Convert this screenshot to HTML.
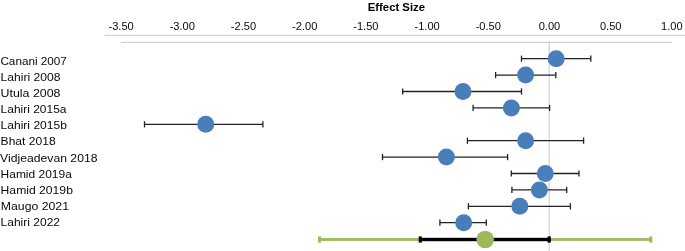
<!DOCTYPE html>
<html><head><meta charset="utf-8"><title>Effect Size</title>
<style>
html,body{margin:0;padding:0;background:#fff;}
svg{display:block;}
text{font-family:"Liberation Sans",sans-serif;fill:#0a0a0a;}
.t{font-size:11px;text-anchor:middle;}
.l{font-size:11.3px;}
.h{font-size:11.3px;font-weight:bold;text-anchor:middle;fill:#000;}
</style></head><body>
<svg width="685" height="251" viewBox="0 0 685 251">
<rect width="685" height="251" fill="#fff"/>
<text class="h" x="396.4" y="11" textLength="57.4" lengthAdjust="spacingAndGlyphs">Effect Size</text>
<text class="t" x="121.1" y="30" textLength="25.3" lengthAdjust="spacingAndGlyphs">-3.50</text>
<text class="t" x="182.3" y="30" textLength="25.3" lengthAdjust="spacingAndGlyphs">-3.00</text>
<text class="t" x="243.5" y="30" textLength="25.3" lengthAdjust="spacingAndGlyphs">-2.50</text>
<text class="t" x="304.7" y="30" textLength="25.3" lengthAdjust="spacingAndGlyphs">-2.00</text>
<text class="t" x="365.9" y="30" textLength="25.3" lengthAdjust="spacingAndGlyphs">-1.50</text>
<text class="t" x="427.1" y="30" textLength="25.3" lengthAdjust="spacingAndGlyphs">-1.00</text>
<text class="t" x="488.3" y="30" textLength="25.3" lengthAdjust="spacingAndGlyphs">-0.50</text>
<text class="t" x="549.5" y="30" textLength="21.6" lengthAdjust="spacingAndGlyphs">0.00</text>
<text class="t" x="610.7" y="30" textLength="21.6" lengthAdjust="spacingAndGlyphs">0.50</text>
<text class="t" x="671.9" y="30" textLength="21.6" lengthAdjust="spacingAndGlyphs">1.00</text>
<line x1="104.5" y1="35.3" x2="685" y2="35.3" stroke="#c9c9c9" stroke-width="1"/>
<line x1="121" y1="42.3" x2="672" y2="42.3" stroke="#c9c9c9" stroke-width="1"/>
<line x1="549.2" y1="42.3" x2="549.2" y2="251" stroke="#c9c9c9" stroke-width="1"/>
<text class="l" x="0.4" y="65.1" textLength="66.5" lengthAdjust="spacingAndGlyphs">Canani 2007</text>
<text class="l" x="0.6" y="81.2" textLength="59.9" lengthAdjust="spacingAndGlyphs">Lahiri 2008</text>
<text class="l" x="0.6" y="97.2" textLength="59.9" lengthAdjust="spacingAndGlyphs">Utula 2008</text>
<text class="l" x="0.6" y="113.3" textLength="65.9" lengthAdjust="spacingAndGlyphs">Lahiri 2015a</text>
<text class="l" x="0.6" y="129.3" textLength="66.3" lengthAdjust="spacingAndGlyphs">Lahiri 2015b</text>
<text class="l" x="0.6" y="145.4" textLength="55.1" lengthAdjust="spacingAndGlyphs">Bhat 2018</text>
<text class="l" x="0.1" y="161.5" textLength="97.4" lengthAdjust="spacingAndGlyphs">Vidjeadevan 2018</text>
<text class="l" x="0.6" y="177.5" textLength="71.2" lengthAdjust="spacingAndGlyphs">Hamid 2019a</text>
<text class="l" x="0.6" y="193.6" textLength="72.3" lengthAdjust="spacingAndGlyphs">Hamid 2019b</text>
<text class="l" x="0.8" y="209.6" textLength="68.2" lengthAdjust="spacingAndGlyphs">Maugo 2021</text>
<text class="l" x="0.6" y="225.7" textLength="59.4" lengthAdjust="spacingAndGlyphs">Lahiri 2022</text>
<g stroke="#222" stroke-width="1.3"><line x1="521.5" y1="58.7" x2="590.8" y2="58.7"/><line x1="521.5" y1="55.6" x2="521.5" y2="61.8"/><line x1="590.8" y1="55.6" x2="590.8" y2="61.8"/></g>
<circle cx="556.2" cy="58.7" r="8.5" fill="#4a7ebb"/>
<g stroke="#222" stroke-width="1.3"><line x1="495.6" y1="75.1" x2="555.8" y2="75.1"/><line x1="495.6" y1="72.0" x2="495.6" y2="78.2"/><line x1="555.8" y1="72.0" x2="555.8" y2="78.2"/></g>
<circle cx="525.6" cy="75.1" r="8.5" fill="#4a7ebb"/>
<g stroke="#222" stroke-width="1.3"><line x1="402.7" y1="91.5" x2="521.5" y2="91.5"/><line x1="402.7" y1="88.4" x2="402.7" y2="94.6"/><line x1="521.5" y1="88.4" x2="521.5" y2="94.6"/></g>
<circle cx="463.0" cy="91.5" r="8.5" fill="#4a7ebb"/>
<g stroke="#222" stroke-width="1.3"><line x1="473.1" y1="107.9" x2="549.6" y2="107.9"/><line x1="473.1" y1="104.8" x2="473.1" y2="111.0"/><line x1="549.6" y1="104.8" x2="549.6" y2="111.0"/></g>
<circle cx="511.4" cy="107.9" r="8.5" fill="#4a7ebb"/>
<g stroke="#222" stroke-width="1.3"><line x1="144.5" y1="124.3" x2="262.9" y2="124.3"/><line x1="144.5" y1="121.2" x2="144.5" y2="127.4"/><line x1="262.9" y1="121.2" x2="262.9" y2="127.4"/></g>
<circle cx="205.7" cy="124.3" r="8.5" fill="#4a7ebb"/>
<g stroke="#222" stroke-width="1.3"><line x1="467.4" y1="140.7" x2="583.6" y2="140.7"/><line x1="467.4" y1="137.6" x2="467.4" y2="143.8"/><line x1="583.6" y1="137.6" x2="583.6" y2="143.8"/></g>
<circle cx="525.6" cy="140.7" r="8.5" fill="#4a7ebb"/>
<g stroke="#222" stroke-width="1.3"><line x1="382.5" y1="157.1" x2="507.6" y2="157.1"/><line x1="382.5" y1="154.0" x2="382.5" y2="160.2"/><line x1="507.6" y1="154.0" x2="507.6" y2="160.2"/></g>
<circle cx="446.4" cy="157.1" r="8.5" fill="#4a7ebb"/>
<g stroke="#222" stroke-width="1.3"><line x1="511.3" y1="173.5" x2="579.0" y2="173.5"/><line x1="511.3" y1="170.4" x2="511.3" y2="176.6"/><line x1="579.0" y1="170.4" x2="579.0" y2="176.6"/></g>
<circle cx="545.3" cy="173.5" r="8.5" fill="#4a7ebb"/>
<g stroke="#222" stroke-width="1.3"><line x1="511.9" y1="189.9" x2="566.7" y2="189.9"/><line x1="511.9" y1="186.8" x2="511.9" y2="193.0"/><line x1="566.7" y1="186.8" x2="566.7" y2="193.0"/></g>
<circle cx="539.4" cy="189.9" r="8.5" fill="#4a7ebb"/>
<g stroke="#222" stroke-width="1.3"><line x1="468.4" y1="206.3" x2="570.4" y2="206.3"/><line x1="468.4" y1="203.2" x2="468.4" y2="209.4"/><line x1="570.4" y1="203.2" x2="570.4" y2="209.4"/></g>
<circle cx="519.8" cy="206.3" r="8.5" fill="#4a7ebb"/>
<g stroke="#222" stroke-width="1.3"><line x1="439.9" y1="222.7" x2="486.3" y2="222.7"/><line x1="439.9" y1="219.6" x2="439.9" y2="225.8"/><line x1="486.3" y1="219.6" x2="486.3" y2="225.8"/></g>
<circle cx="463.7" cy="222.7" r="8.5" fill="#4a7ebb"/>
<g fill="#9bbb59"><rect x="318" y="238.1" width="334" height="2.8"/><rect x="318" y="236.4" width="3" height="6.2"/><rect x="649.3" y="236.4" width="3" height="6.2"/></g>
<g fill="#000"><rect x="419" y="237.8" width="131.5" height="3.4"/><rect x="418.7" y="236.4" width="3.1" height="6.2"/><rect x="547.6" y="236.4" width="3.2" height="6.2"/></g>
<circle cx="485.2" cy="239.5" r="8.8" fill="#9bbb59"/>
</svg></body></html>
